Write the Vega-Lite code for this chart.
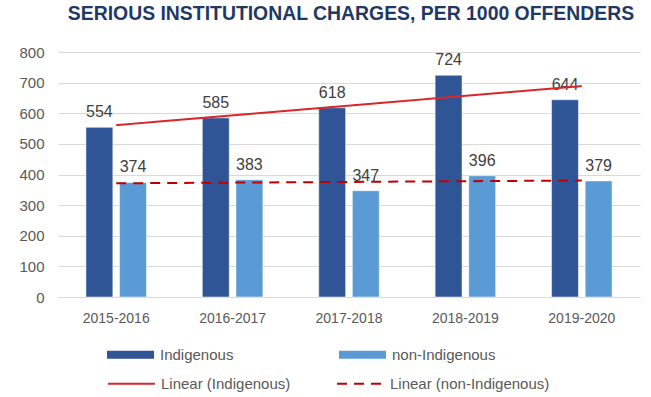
{
  "$schema": "https://vega.github.io/schema/vega-lite/v6.json",
  "width": 582,
  "height": 245,
  "autosize": {"type": "none"},
  "padding": {"left": 58, "top": 52, "right": 11, "bottom": 100},
  "background": "white",
  "title": {
    "text": "SERIOUS INSTITUTIONAL CHARGES, PER 1000 OFFENDERS",
    "font": "Liberation Sans",
    "fontSize": 19.4,
    "fontWeight": "bold",
    "color": "#1F3864",
    "anchor": "middle",
    "baseline": "alphabetic",
    "dx": 2,
    "dy": 4,
    "offset": 10
  },
  "config": {
    "view": {"stroke": null},
    "font": "Liberation Sans"
  },
  "datasets": {
    "bars": [
      {"period": "2015-2016", "series": "Indigenous", "value": 554},
      {"period": "2015-2016", "series": "non-Indigenous", "value": 374},
      {"period": "2016-2017", "series": "Indigenous", "value": 585},
      {"period": "2016-2017", "series": "non-Indigenous", "value": 383},
      {"period": "2017-2018", "series": "Indigenous", "value": 618},
      {"period": "2017-2018", "series": "non-Indigenous", "value": 347},
      {"period": "2018-2019", "series": "Indigenous", "value": 724},
      {"period": "2018-2019", "series": "non-Indigenous", "value": 396},
      {"period": "2019-2020", "series": "Indigenous", "value": 644},
      {"period": "2019-2020", "series": "non-Indigenous", "value": 379}
    ],
    "trends": [
      {"period": "2015-2016", "trend": "Linear (Indigenous)", "value": 561.2},
      {"period": "2019-2020", "trend": "Linear (Indigenous)", "value": 688.8},
      {"period": "2015-2016", "trend": "Linear (non-Indigenous)", "value": 371.2},
      {"period": "2019-2020", "trend": "Linear (non-Indigenous)", "value": 380.4}
    ]
  },
  "encoding": {
    "x": {
      "field": "period",
      "type": "nominal",
      "sort": null,
      "scale": {"paddingInner": 0.48, "paddingOuter": 0.24},
      "axis": {
        "title": null,
        "labelAngle": 0,
        "labelFont": "Liberation Sans",
        "labelFontSize": 14,
        "labelColor": "#595959",
        "labelPadding": 14,
        "ticks": false,
        "domain": true,
        "domainColor": "#D9D9D9",
        "domainWidth": 1
      }
    },
    "y": {
      "field": "value",
      "type": "quantitative",
      "scale": {"domain": [0, 800], "nice": false},
      "axis": {
        "title": null,
        "values": [0, 100, 200, 300, 400, 500, 600, 700, 800],
        "labelFont": "Liberation Sans",
        "labelFontSize": 15,
        "labelColor": "#595959",
        "labelPadding": 14,
        "ticks": false,
        "domain": false,
        "grid": true,
        "gridColor": "#D9D9D9",
        "gridWidth": 1
      }
    }
  },
  "layer": [
    {
      "data": {"name": "bars"},
      "mark": {"type": "bar", "stroke": "white", "strokeWidth": 0.5},
      "encoding": {
        "xOffset": {"field": "series", "type": "nominal", "scale": {"paddingInner": 0.2}},
        "fill": {
          "field": "series",
          "type": "nominal",
          "scale": {"domain": ["Indigenous", "non-Indigenous"], "range": ["#2F5597", "#5B9BD5"]},
          "legend": {
            "title": null,
            "orient": "none",
            "legendX": 49,
            "legendY": 279,
            "direction": "horizontal",
            "columns": 2,
            "columnPadding": 105,
            "symbolType": "M-1,-0.17H1V0.17H-1Z",
            "symbolSize": 2209,
            "symbolStrokeWidth": 0,
            "labelFont": "Liberation Sans",
            "labelFontSize": 15,
            "labelColor": "#595959",
            "labelOffset": 6
          }
        }
      }
    },
    {
      "data": {"name": "bars"},
      "mark": {"type": "text", "baseline": "alphabetic", "dy": -10, "font": "Liberation Sans", "fontSize": 16, "color": "#404040"},
      "encoding": {
        "xOffset": {"field": "series", "type": "nominal", "scale": {"paddingInner": 0.2}},
        "text": {"field": "value", "type": "quantitative"}
      }
    },
    {
      "data": {"name": "trends"},
      "mark": {"type": "line", "strokeWidth": 2},
      "encoding": {
        "stroke": {
          "field": "trend",
          "type": "nominal",
          "scale": {"domain": ["Linear (Indigenous)", "Linear (non-Indigenous)"], "range": ["#D9262B", "#C00000"]},
          "legend": {
            "title": null,
            "orient": "none",
            "legendX": 49,
            "legendY": 307,
            "direction": "horizontal",
            "columns": 2,
            "columnPadding": 42,
            "symbolType": "stroke",
            "symbolSize": 2209,
            "symbolStrokeWidth": 2,
            "labelFont": "Liberation Sans",
            "labelFontSize": 15,
            "labelColor": "#595959",
            "labelOffset": 5
          }
        },
        "strokeDash": {
          "field": "trend",
          "type": "nominal",
          "scale": {"domain": ["Linear (Indigenous)", "Linear (non-Indigenous)"], "range": [[1, 0], [10, 7]]},
          "legend": {
            "title": null,
            "orient": "none",
            "legendX": 49,
            "legendY": 307,
            "direction": "horizontal",
            "columns": 2,
            "columnPadding": 42,
            "symbolType": "stroke",
            "symbolSize": 2209,
            "symbolStrokeWidth": 2,
            "labelFont": "Liberation Sans",
            "labelFontSize": 15,
            "labelColor": "#595959",
            "labelOffset": 5
          }
        }
      }
    }
  ]
}
